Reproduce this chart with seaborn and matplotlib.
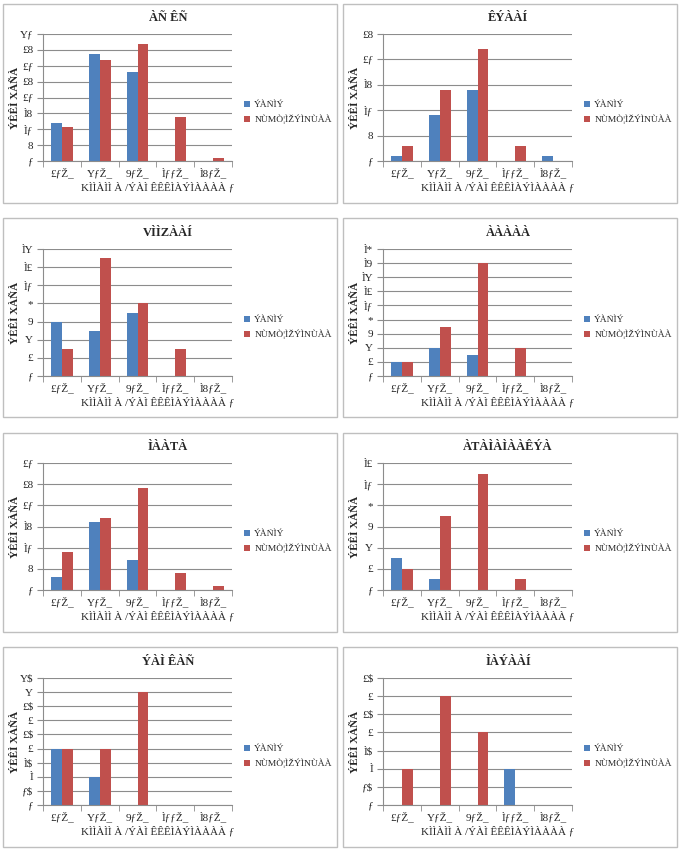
import matplotlib
matplotlib.use("Agg")
import matplotlib.pyplot as plt
from matplotlib.patches import Rectangle
from matplotlib.ticker import FuncFormatter, MultipleLocator, FixedLocator
import seaborn as sns
import pandas as pd

sns.set_style("white")
plt.rcParams['font.family'] = ['Liberation Serif', 'DejaVu Serif', 'DejaVu Sans']

# ---------------- data ----------------
categories = ["£ƒŽ_", "YƒŽ_", "9ƒŽ_", "ÌƒƒŽ_", "Ì8ƒŽ_"]
series_names = ["ÝÀÑÌÝ", "NÙMÒ¦ÌŽÝÌNÙÀÀ"]
titles = ["ÀÑ ÊÑ", "ÊÝÀÀÍ", "VÌÌZÀÀÍ", "ÀÀÀÀÀ",
          "ÌÀÀTÀ", "ÀTÀÌÀÌÀÀÊÝÀ", "ÝÀÌ ÊÀÑ", "ÌÀÝÀÀÍ"]
y_label = "ÝÊÊÌ XÀÑÀ"
x_label = "KÌÌÀÌÌ À /ÝÀÌ ÊÊÊÌÀÝÌÀÀÀÀ ƒ"

blue_1 = [11.9, 33.8, 28.0, 0, 0]
red_1 = [10.7, 31.9, 36.9, 13.8, 0.9]
blue_2 = [1, 9, 14, 0, 1]
red_2 = [3, 14, 22, 3, 0]
blue_3 = [6, 5, 7, 0, 0]
red_3 = [3, 13, 8, 3, 0]
blue_4 = [2, 4, 3, 0, 0]
red_4 = [2, 7, 16, 4, 0]
blue_5 = [3, 16, 7, 0, 0]
red_5 = [9, 17, 24, 4, 1]
blue_6 = [3, 1, 0, 0, 0]
red_6 = [2, 7, 11, 1, 0]
blue_7 = [2, 1, 0, 0, 0]
red_7 = [2, 2, 4, 0, 0]
blue_8 = [0, 0, 0, 1, 0]
red_8 = [1, 3, 2, 0, 0]

y_max = [40, 25, 14, 18, 30, 12, 4.5, 3.5]
y_step = [5, 5, 2, 2, 5, 2, 0.5, 0.5]

blues = [blue_1, blue_2, blue_3, blue_4, blue_5, blue_6, blue_7, blue_8]
reds = [red_1, red_2, red_3, red_4, red_5, red_6, red_7, red_8]

# glyph mapping seen in the chart's tick labels
digit_glyph = {"0": "ƒ", "1": "Ì", "2": "£", "3": "£", "4": "Y", "5": "8",
               "6": "9", "7": "7", "8": "*", "9": "9", "-": "-"}


def fmt(v, pos):
    if abs(v - round(v)) < 1e-9:
        s = str(int(round(v)))
        return "".join(digit_glyph.get(c, c) for c in s)
    whole = int(v)
    return "".join(digit_glyph.get(c, c) for c in str(whole)) + "$"


W, H = 684, 849
fig = plt.figure(figsize=(W / 100, H / 100), dpi=100)

box_x = [(3, 337), (343, 677)]
box_y = [(4, 203), (218, 417), (433, 632), (647, 847)]
plot_top = [34, 249, 463, 678]
plot_h = 127
plot_x = [43, 383]
plot_w = 189

blue_c = "#4F81BD"
red_c = "#C0504D"
grid_c = "#8C8C8C"


def fx(px):
    return px / W


def fy(py):
    return 1 - py / H


for i in range(8):
    r, c = divmod(i, 2)
    bx0, bx1 = box_x[c]
    by0, by1 = box_y[r]
    fig.patches.append(Rectangle((fx(bx0), fy(by1)), fx(bx1 - bx0), (by1 - by0) / H,
                                 transform=fig.transFigure, fill=False,
                                 edgecolor="#BFBFBF", linewidth=1.0))
    x0 = plot_x[c]
    top = plot_top[r]
    ax = fig.add_axes([fx(x0), fy(top + plot_h), fx(plot_w), plot_h / H])
    df = pd.DataFrame({
        "cat": categories * 2,
        "series": [series_names[0]] * 5 + [series_names[1]] * 5,
        "val": blues[i] + reds[i],
    })
    sns.barplot(data=df, x="cat", y="val", hue="series", order=categories,
                hue_order=series_names, palette=[blue_c, red_c], width=0.58,
                saturation=1, ax=ax, errorbar=None, linewidth=0)
    handles, labels = ax.get_legend_handles_labels()
    if ax.get_legend() is not None:
        ax.get_legend().remove()
    ax.set_xlim(-0.5, 4.5)
    ax.set_ylim(0, y_max[i])
    ax.yaxis.set_major_locator(MultipleLocator(y_step[i]))
    ax.yaxis.set_major_formatter(FuncFormatter(fmt))
    ax.grid(axis="y", color=grid_c, linewidth=0.8)
    ax.set_axisbelow(True)
    for s in ["top", "right"]:
        ax.spines[s].set_visible(False)
    for s in ["left", "bottom"]:
        ax.spines[s].set_color(grid_c)
        ax.spines[s].set_linewidth(0.8)
    ax.tick_params(axis="y", length=4, color=grid_c, labelsize=8, pad=3, left=True)
    ax.tick_params(axis="x", which="major", length=0, labelsize=8, pad=5)
    ax.xaxis.set_minor_locator(FixedLocator([-0.5, 0.5, 1.5, 2.5, 3.5, 4.5]))
    ax.tick_params(axis="x", which="minor", length=4, color=grid_c, bottom=True)
    ax.set_xlabel("")
    ax.set_ylabel("")
    # title, axis labels
    fig.text(fx(x0 + 125), fy(top - 16), titles[i], ha="center", va="center",
             fontsize=9, fontweight="bold")
    fig.text(fx(x0 - 28), fy(top + plot_h / 2), y_label, ha="center", va="center",
             rotation=90, fontsize=8, fontweight="bold")
    fig.text(fx(x0 + 115), fy(top + plot_h + 26), x_label, ha="center", va="center",
             fontsize=8)
    ax.legend(handles, labels, loc="upper left",
              bbox_to_anchor=(fx(x0 + 201), fy(top + 67)),
              bbox_transform=fig.transFigure, frameon=False,
              handlelength=0.6, handleheight=0.6, handletextpad=0.5,
              labelspacing=0.6, fontsize=6.8, borderaxespad=0, borderpad=0)

fig.savefig("out.png", dpi=100, facecolor="white")
